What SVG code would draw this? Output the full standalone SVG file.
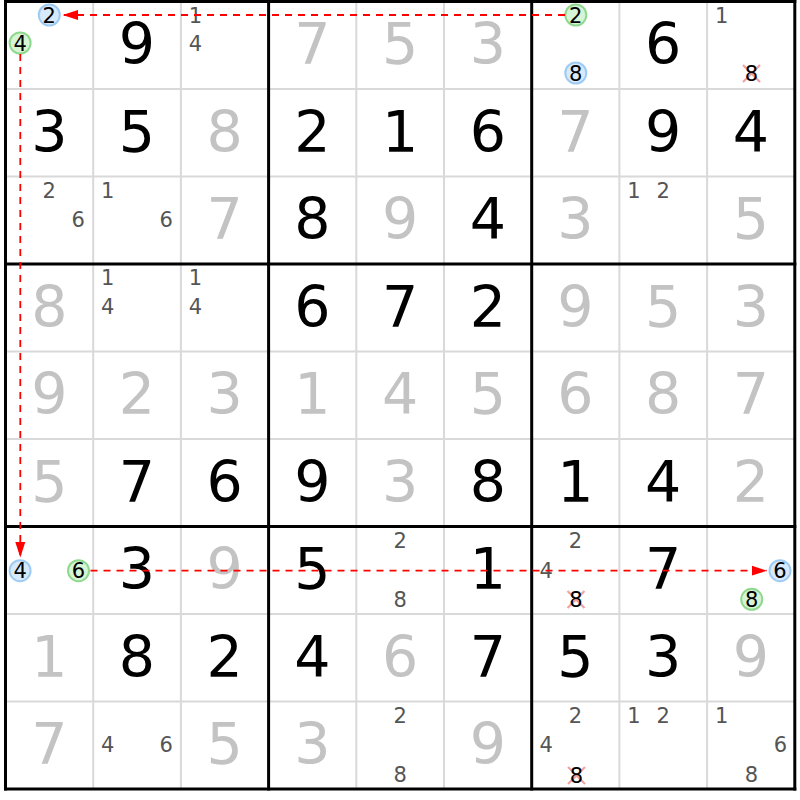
<svg xmlns="http://www.w3.org/2000/svg" width="800" height="800" viewBox="0 0 800 800">
<style>
.thin{stroke:#d9d9d9;stroke-width:2}
.thick{stroke:#000;stroke-width:3}
.b{font-family:"DejaVu Sans",Verdana,sans-serif;font-size:57px;text-anchor:middle;fill:#000}
.s{font-family:"DejaVu Sans",Verdana,sans-serif;font-size:57px;text-anchor:middle;fill:#c3c3c3}
.c{font-family:"DejaVu Sans",Verdana,sans-serif;font-size:21px;text-anchor:middle;fill:#555}
.h{font-family:"DejaVu Sans",Verdana,sans-serif;font-size:21px;text-anchor:middle;fill:#000}
.cb{fill:#d6e9fd;stroke:#9ecbf3;stroke-width:2}
.cg{fill:#d6f4d6;stroke:#8fd98f;stroke-width:2}
.x{stroke:#f3a0a0;stroke-width:2.2}
.link{stroke:#ff0000;stroke-width:1.8;stroke-dasharray:7 6;fill:none;marker-end:url(#ah)}
</style>
<defs>
<marker id="ah" markerUnits="userSpaceOnUse" markerWidth="16" markerHeight="11" refX="15.5" refY="5.5" orient="auto">
<path d="M0,0.5 L15.5,5.5 L0,10.5 z" fill="#ff0000"/>
</marker>
</defs>
<rect x="0" y="0" width="800" height="800" fill="#fff"/>
<g id="grid">
<line class="thin" x1="93.2" y1="1.5" x2="93.2" y2="789"/>
<line class="thin" x1="180.9" y1="1.5" x2="180.9" y2="789"/>
<line class="thin" x1="356.3" y1="1.5" x2="356.3" y2="789"/>
<line class="thin" x1="444" y1="1.5" x2="444" y2="789"/>
<line class="thin" x1="619.4" y1="1.5" x2="619.4" y2="789"/>
<line class="thin" x1="707.1" y1="1.5" x2="707.1" y2="789"/>
<line class="thin" x1="5.5" y1="89" x2="794.8" y2="89"/>
<line class="thin" x1="5.5" y1="176.5" x2="794.8" y2="176.5"/>
<line class="thin" x1="5.5" y1="351.5" x2="794.8" y2="351.5"/>
<line class="thin" x1="5.5" y1="439" x2="794.8" y2="439"/>
<line class="thin" x1="5.5" y1="614" x2="794.8" y2="614"/>
<line class="thin" x1="5.5" y1="701.5" x2="794.8" y2="701.5"/>
<line class="thick" x1="5.5" y1="0" x2="5.5" y2="790.5"/>
<line class="thick" x1="268.6" y1="0" x2="268.6" y2="790.5"/>
<line class="thick" x1="531.7" y1="0" x2="531.7" y2="790.5"/>
<line class="thick" x1="794.8" y1="0" x2="794.8" y2="790.5"/>
<line class="thick" x1="4" y1="1.5" x2="796.3" y2="1.5"/>
<line class="thick" x1="4" y1="264" x2="796.3" y2="264"/>
<line class="thick" x1="4" y1="526.5" x2="796.3" y2="526.5"/>
<line class="thick" x1="4" y1="789" x2="796.3" y2="789"/>
</g>
<!-- Row 0 -->
<g id="r0c0"><circle class="cb" cx="49.3" cy="15" r="10.5"/><text class="h" x="49.3" y="22.6">2</text><circle class="cg" cx="20.1" cy="43" r="10.5"/><text class="h" x="20.1" y="50.6">4</text></g>
<g id="r0c1"><text class="b" x="137" y="64">9</text></g>
<g id="r0c2"><text class="c" x="195.5" y="22.6">1</text><text class="c" x="195.5" y="50.6">4</text></g>
<g id="r0c3"><text class="s" x="312.4" y="64">7</text></g>
<g id="r0c4"><text class="s" x="400.1" y="64">5</text></g>
<g id="r0c5"><text class="s" x="487.8" y="64">3</text></g>
<g id="r0c6"><circle class="cg" cx="575.8" cy="15" r="10.5"/><text class="h" x="575.8" y="22.6">2</text><circle class="cb" cx="575.8" cy="73" r="10.5"/><text class="h" x="575.8" y="80.6">8</text></g>
<g id="r0c7"><text class="b" x="663.2" y="64">6</text></g>
<g id="r0c8"><text class="c" x="721.7" y="22.6">1</text><line class="x" x1="743" y1="65" x2="760" y2="82"/><line class="x" x1="760" y1="65" x2="743" y2="82"/><text class="h" x="751.5" y="81.1">8</text></g>
<!-- Row 1 -->
<g id="r1c0"><text class="b" x="49.3" y="151.5">3</text></g>
<g id="r1c1"><text class="b" x="137" y="151.5">5</text></g>
<g id="r1c2"><text class="s" x="224.7" y="151.5">8</text></g>
<g id="r1c3"><text class="b" x="312.4" y="151.5">2</text></g>
<g id="r1c4"><text class="b" x="400.1" y="151.5">1</text></g>
<g id="r1c5"><text class="b" x="487.8" y="151.5">6</text></g>
<g id="r1c6"><text class="s" x="575.5" y="151.5">7</text></g>
<g id="r1c7"><text class="b" x="663.2" y="151.5">9</text></g>
<g id="r1c8"><text class="b" x="750.9" y="151.5">4</text></g>
<!-- Row 2 -->
<g id="r2c0"><text class="c" x="49.3" y="198.1">2</text><text class="c" x="78.3" y="227.3">6</text></g>
<g id="r2c1"><text class="c" x="107.8" y="198.1">1</text><text class="c" x="166.3" y="227.3">6</text></g>
<g id="r2c2"><text class="s" x="224.7" y="239">7</text></g>
<g id="r2c3"><text class="b" x="312.4" y="239">8</text></g>
<g id="r2c4"><text class="s" x="400.1" y="239">9</text></g>
<g id="r2c5"><text class="b" x="487.8" y="239">4</text></g>
<g id="r2c6"><text class="s" x="575.5" y="239">3</text></g>
<g id="r2c7"><text class="c" x="634" y="198.1">1</text><text class="c" x="663.3" y="198.1">2</text></g>
<g id="r2c8"><text class="s" x="750.9" y="239">5</text></g>
<!-- Row 3 -->
<g id="r3c0"><text class="s" x="49.3" y="326.5">8</text></g>
<g id="r3c1"><text class="c" x="107.8" y="285.3">1</text><text class="c" x="107.8" y="314.3">4</text></g>
<g id="r3c2"><text class="c" x="195.5" y="285.3">1</text><text class="c" x="195.5" y="314.3">4</text></g>
<g id="r3c3"><text class="b" x="312.4" y="326.5">6</text></g>
<g id="r3c4"><text class="b" x="400.1" y="326.5">7</text></g>
<g id="r3c5"><text class="b" x="487.8" y="326.5">2</text></g>
<g id="r3c6"><text class="s" x="575.5" y="326.5">9</text></g>
<g id="r3c7"><text class="s" x="663.2" y="326.5">5</text></g>
<g id="r3c8"><text class="s" x="750.9" y="326.5">3</text></g>
<!-- Row 4 -->
<g id="r4c0"><text class="s" x="49.3" y="414">9</text></g>
<g id="r4c1"><text class="s" x="137" y="414">2</text></g>
<g id="r4c2"><text class="s" x="224.7" y="414">3</text></g>
<g id="r4c3"><text class="s" x="312.4" y="414">1</text></g>
<g id="r4c4"><text class="s" x="400.1" y="414">4</text></g>
<g id="r4c5"><text class="s" x="487.8" y="414">5</text></g>
<g id="r4c6"><text class="s" x="575.5" y="414">6</text></g>
<g id="r4c7"><text class="s" x="663.2" y="414">8</text></g>
<g id="r4c8"><text class="s" x="750.9" y="414">7</text></g>
<!-- Row 5 -->
<g id="r5c0"><text class="s" x="49.3" y="501.5">5</text></g>
<g id="r5c1"><text class="b" x="137" y="501.5">7</text></g>
<g id="r5c2"><text class="b" x="224.7" y="501.5">6</text></g>
<g id="r5c3"><text class="b" x="312.4" y="501.5">9</text></g>
<g id="r5c4"><text class="s" x="400.1" y="501.5">3</text></g>
<g id="r5c5"><text class="b" x="487.8" y="501.5">8</text></g>
<g id="r5c6"><text class="b" x="575.5" y="501.5">1</text></g>
<g id="r5c7"><text class="b" x="663.2" y="501.5">4</text></g>
<g id="r5c8"><text class="s" x="750.9" y="501.5">2</text></g>
<!-- Row 6 -->
<g id="r6c1"><text class="b" x="137" y="589">3</text></g>
<g id="r6c2"><text class="s" x="224.7" y="589">9</text></g>
<g id="r6c3"><text class="b" x="312.4" y="589">5</text></g>
<g id="r6c4"><text class="c" x="400.1" y="548.3">2</text><text class="c" x="400.1" y="607.3">8</text></g>
<g id="r6c5"><text class="b" x="487.8" y="589">1</text></g>
<g id="r6c6"><text class="c" x="575.5" y="548.3">2</text><text class="c" x="546.3" y="577.8">4</text><line class="x" x1="567.5" y1="591" x2="584.5" y2="608"/><line class="x" x1="584.5" y1="591" x2="567.5" y2="608"/><text class="h" x="576" y="607.3">8</text></g>
<g id="r6c7"><text class="b" x="663.2" y="589">7</text></g>
<!-- Row 7 -->
<g id="r7c0"><text class="s" x="49.3" y="676.5">1</text></g>
<g id="r7c1"><text class="b" x="137" y="676.5">8</text></g>
<g id="r7c2"><text class="b" x="224.7" y="676.5">2</text></g>
<g id="r7c3"><text class="b" x="312.4" y="676.5">4</text></g>
<g id="r7c4"><text class="s" x="400.1" y="676.5">6</text></g>
<g id="r7c5"><text class="b" x="487.8" y="676.5">7</text></g>
<g id="r7c6"><text class="b" x="575.5" y="676.5">5</text></g>
<g id="r7c7"><text class="b" x="663.2" y="676.5">3</text></g>
<g id="r7c8"><text class="s" x="750.9" y="676.5">9</text></g>
<!-- Row 8 -->
<g id="r8c0"><text class="s" x="49.3" y="764">7</text></g>
<g id="r8c1"><text class="c" x="107.8" y="752.3">4</text><text class="c" x="166.3" y="752.3">6</text></g>
<g id="r8c2"><text class="s" x="224.7" y="764">5</text></g>
<g id="r8c3"><text class="s" x="312.4" y="764">3</text></g>
<g id="r8c4"><text class="c" x="400.1" y="723.1">2</text><text class="c" x="400.1" y="781.8">8</text></g>
<g id="r8c5"><text class="s" x="487.8" y="764">9</text></g>
<g id="r8c6"><text class="c" x="575.5" y="723.1">2</text><text class="c" x="546.3" y="752.3">4</text><line class="x" x1="568" y1="767" x2="585" y2="784"/><line class="x" x1="585" y1="767" x2="568" y2="784"/><text class="h" x="576.5" y="782.8">8</text></g>
<g id="r8c7"><text class="c" x="634" y="723.1">1</text><text class="c" x="663.3" y="723.1">2</text></g>
<g id="r8c8"><text class="c" x="721.7" y="723.1">1</text><text class="c" x="780.5" y="752.3">6</text><text class="c" x="751.5" y="782.3">8</text></g>
<!-- Connectors -->
<g id="connectors">
<line class="link" x1="565" y1="15" x2="62.5" y2="15"/>
<line class="link" x1="20.3" y1="54" x2="20.3" y2="557.5"/>
<line class="link" x1="90.5" y1="570.7" x2="767" y2="570.7"/>
</g>
<!-- Row 6 circled candidates (drawn above connectors) -->
<g id="r6c0"><circle class="cb" cx="20.1" cy="570.7" r="10.5"/><text class="h" x="20.1" y="578.3">4</text><circle class="cg" cx="78.5" cy="570.7" r="10.5"/><text class="h" x="78.5" y="578.3">6</text></g>
<g id="r6c8"><circle class="cb" cx="780" cy="570.7" r="10.5"/><text class="h" x="780" y="578.3">6</text><circle class="cg" cx="751.7" cy="599.3" r="10.5"/><text class="h" x="751.7" y="606.9">8</text></g>
</svg>
